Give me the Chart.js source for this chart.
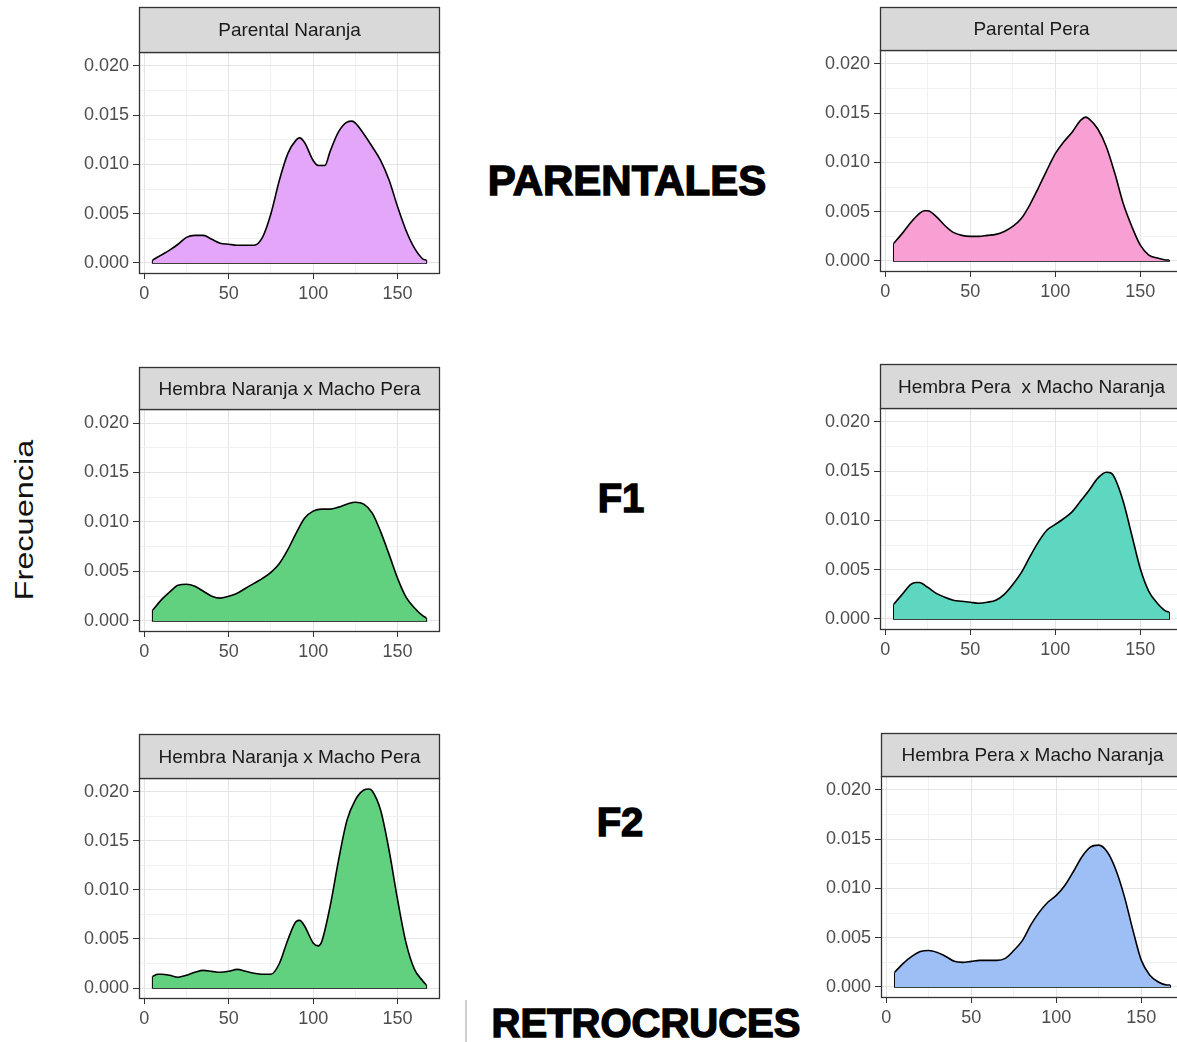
<!DOCTYPE html>
<html>
<head>
<meta charset="utf-8">
<script src="https://cdn.jsdelivr.net/npm/chart.js@4.4.0/dist/chart.umd.min.js"></script>
<style>
  html, body { margin: 0; padding: 0; background: #fff; overflow: hidden; width: 1177px; height: 1042px; }
  body { position: relative; }
  .panel { position: absolute; }
  .big {
    position: absolute; font-family: 'Liberation Sans', Arial, sans-serif; font-weight: bold;
    color: #000; line-height: 1; white-space: nowrap; transform: translate(-50%, -50%);
    -webkit-text-stroke: 1.4px #000;
  }
  .ylab {
    position: absolute; font-family: 'Liberation Sans', Arial, sans-serif; color: #111;
    font-size: 26px; line-height: 1; white-space: nowrap;
    transform: translate(-50%, -50%) rotate(-90deg) scaleX(1.25);
  }
  .sep { position: absolute; background: #d0d0d0; }
</style>
</head>
<body>
<div class="ylab" style="left:24px; top:520px;">Frecuencia</div>
<div class="big" style="left:627px; top:181px; font-size:42px;">PARENTALES</div>
<div class="big" style="left:621px; top:498px; font-size:40px;">F1</div>
<div class="big" style="left:620px; top:822px; font-size:40px;">F2</div>
<div class="big" style="left:646px; top:1023px; font-size:40px;">RETROCRUCES</div>
<div class="sep" style="left:465px; top:1000px; width:2px; height:42px;"></div>

<script>
// Axis ticks shared by every facet
const xTickValues = [0, 50, 100, 150];
const xTickLabels = ['0', '50', '100', '150'];
const yTickValues = [0, 0.005, 0.010, 0.015, 0.020];
const yTickLabels = ['0.000', '0.005', '0.010', '0.015', '0.020'];

// Facet titles
const panelTitles = [
  'Parental Naranja',
  'Parental Pera',
  'Hembra Naranja x Macho Pera',
  'Hembra Pera  x Macho Naranja',
  'Hembra Naranja x Macho Pera',
  'Hembra Pera x Macho Naranja'
];

// Density curves (x = value, y = density)
const xParentalNaranja = [5,10,15,20,25,30,35,40,45,50,55,60,65,70,75,80,85,90,92,95,100,103,107,110,115,120,123,125,130,135,140,145,150,155,160,165,167];
const yParentalNaranja = [0.0003,0.0008,0.0013,0.0019,0.0026,0.0028,0.0028,0.0024,0.0020,0.0019,0.0018,0.0018,0.0018,0.0026,0.0050,0.0084,0.0111,0.0125,0.0127,0.0122,0.0104,0.0099,0.0099,0.0113,0.0133,0.0143,0.0144,0.0142,0.0131,0.0118,0.0104,0.0084,0.0057,0.0033,0.0015,0.0004,0.0003];

const xParentalPera = [5,10,15,20,23,25,30,35,40,45,50,55,60,65,70,75,80,85,90,95,100,105,110,115,118,120,125,130,135,140,145,150,155,160,165,167];
const yParentalPera = [0.0018,0.0028,0.0039,0.0048,0.0051,0.0051,0.0045,0.0036,0.0029,0.0026,0.0025,0.0025,0.0026,0.0027,0.0030,0.0035,0.0043,0.0057,0.0074,0.0092,0.0109,0.0121,0.0131,0.0143,0.0146,0.0144,0.0134,0.0116,0.0089,0.0058,0.0035,0.0016,0.0006,0.0003,0.0001,0.0001];

const xF1NaranjaPera = [5,10,15,20,25,30,35,40,45,50,55,60,65,70,75,80,85,90,95,100,105,110,115,120,125,130,135,140,145,150,155,160,165,167];
const yF1NaranjaPera = [0.0011,0.0021,0.0029,0.0036,0.0037,0.0035,0.0030,0.0025,0.0023,0.0025,0.0028,0.0033,0.0038,0.0043,0.0049,0.0058,0.0072,0.0089,0.0104,0.0111,0.0113,0.0113,0.0115,0.0118,0.0120,0.0118,0.0109,0.0090,0.0067,0.0043,0.0024,0.0013,0.0005,0.0003];

const xF1PeraNaranja = [5,10,15,18,20,25,30,35,40,45,50,55,60,65,70,75,80,85,90,95,100,105,110,115,120,125,130,133,135,140,145,150,155,160,165,167];
const yF1PeraNaranja = [0.0015,0.0025,0.0035,0.0037,0.0037,0.0032,0.0026,0.0022,0.0019,0.0018,0.0017,0.0016,0.0017,0.0019,0.0025,0.0035,0.0047,0.0063,0.0078,0.0090,0.0096,0.0102,0.0109,0.0120,0.0131,0.0143,0.0149,0.0148,0.0143,0.0119,0.0085,0.0051,0.0028,0.0016,0.0008,0.0007];

const xF2NaranjaPera = [5,8,10,15,20,25,30,35,40,45,50,55,60,65,70,75,80,85,90,92,95,100,103,105,110,115,120,125,130,133,135,140,145,150,155,160,165,167];
const yF2NaranjaPera = [0.0012,0.0014,0.0014,0.0013,0.0011,0.0013,0.0016,0.0018,0.0017,0.0016,0.0017,0.0019,0.0017,0.0015,0.0014,0.0014,0.0025,0.0049,0.0068,0.0069,0.0063,0.0046,0.0043,0.0047,0.0083,0.0130,0.0171,0.0192,0.0202,0.0203,0.0201,0.0181,0.0140,0.0090,0.0046,0.0019,0.0007,0.0003];

const xRetroPeraNaranja = [5,10,15,20,25,30,35,40,45,50,55,60,65,70,75,80,85,90,95,100,105,110,115,120,125,130,135,140,145,150,155,160,165,167];
const yRetroPeraNaranja = [0.0015,0.0024,0.0031,0.0036,0.0037,0.0035,0.0031,0.0026,0.0025,0.0026,0.0027,0.0027,0.0027,0.0029,0.0037,0.0047,0.0063,0.0076,0.0086,0.0093,0.0103,0.0117,0.0132,0.0142,0.0144,0.0137,0.0119,0.0092,0.0058,0.0027,0.0012,0.0005,0.0002,0.0002];

// Fill colour of each facet
const fillColors = ['#e3a6f8', '#f89fd4', '#61d07f', '#5ed7c1', '#61d07f', '#9ebff6'];

// Placement of each facet's plotting panel on the page
const layouts = [
  { left: 139, top: 52,  w: 301, h: 221, strip: 45 },
  { left: 880, top: 50,  w: 303, h: 221, strip: 43 },
  { left: 139, top: 409, w: 301, h: 222, strip: 42 },
  { left: 880, top: 408, w: 303, h: 221, strip: 44 },
  { left: 139, top: 778, w: 301, h: 220, strip: 44 },
  { left: 881, top: 776, w: 303, h: 221, strip: 43 }
];

const series = [
  [xParentalNaranja, yParentalNaranja],
  [xParentalPera, yParentalPera],
  [xF1NaranjaPera, yF1NaranjaPera],
  [xF1PeraNaranja, yF1PeraNaranja],
  [xF2NaranjaPera, yF2NaranjaPera],
  [xRetroPeraNaranja, yRetroPeraNaranja]
];

const X_MIN = -3.1, X_MAX = 175.1;
const Y_MIN = -0.00102, Y_MAX = 0.02142;
const AXIS_W = 75, AXIS_H = 40, PAD_R = 6;
const FONT = "'Liberation Sans', Arial, sans-serif";

// Major breaks plus the midpoints between them (minor grid)
function withMinors(vals) {
  const out = [];
  for (let i = 0; i < vals.length; i++) {
    out.push(vals[i]);
    if (i < vals.length - 1) out.push((vals[i] + vals[i + 1]) / 2);
  }
  return out;
}
function majorIndex(vals, v) {
  const eps = 1e-9;
  return vals.findIndex(m => Math.abs(m - v) < eps);
}

// Grey strip with facet title plus the dark panel border
const facetFrame = {
  id: 'facetFrame',
  afterDraw(chart, args, opts) {
    const { ctx, chartArea: a } = chart;
    const L = Math.round(a.left) + 0.5, T = Math.round(a.top) + 0.5;
    const R = Math.round(a.right) - 0.5, B = Math.round(a.bottom) + 0.5;
    ctx.save();
    ctx.lineWidth = 1.3;
    ctx.strokeStyle = '#333';
    ctx.strokeRect(L, T, R - L, B - T);
    ctx.fillStyle = '#d9d9d9';
    ctx.fillRect(L, T - opts.strip, R - L, opts.strip);
    ctx.strokeRect(L, T - opts.strip, R - L, opts.strip);
    ctx.fillStyle = '#1a1a1a';
    ctx.font = '19px ' + FONT;
    ctx.textAlign = 'center';
    ctx.textBaseline = 'middle';
    ctx.fillText(opts.title, (L + R) / 2, T - opts.strip / 2 + 1);
    ctx.restore();
  }
};

function makePanel(i) {
  const g = layouts[i];
  const [xs, ys] = series[i];
  const n = xs.length;
  const canvas = document.createElement('canvas');
  const cw = AXIS_W + g.w + PAD_R;
  const chh = g.strip + 2 + g.h + AXIS_H;
  canvas.width = cw; canvas.height = chh;
  canvas.style.width = cw + 'px'; canvas.style.height = chh + 'px';
  const wrap = document.createElement('div');
  wrap.className = 'panel';
  wrap.style.left = (g.left - AXIS_W) + 'px';
  wrap.style.top = (g.top - g.strip - 2) + 'px';
  wrap.appendChild(canvas);
  document.body.appendChild(wrap);

  const curve = xs.map((x, k) => ({ x: x, y: ys[k] }));
  const edges = [
    { x: xs[0], y: ys[0] }, { x: xs[0], y: 0 },
    { x: xs[n - 1], y: 0 }, { x: xs[n - 1], y: ys[n - 1] }
  ];

  new Chart(canvas, {
    type: 'line',
    data: {
      datasets: [
        {
          data: curve, borderColor: '#000', borderWidth: 1.6, backgroundColor: fillColors[i],
          fill: { target: { value: 0 } }, pointRadius: 0, cubicInterpolationMode: 'monotone'
        },
        {
          data: edges, borderColor: '#000', borderWidth: 1.6, fill: false,
          pointRadius: 0, tension: 0
        }
      ]
    },
    options: {
      responsive: false, animation: false, devicePixelRatio: 1,
      layout: { padding: { top: g.strip + 2, right: PAD_R, left: 0, bottom: 0 } },
      plugins: {
        legend: { display: false }, tooltip: { enabled: false },
        facetFrame: { title: panelTitles[i], strip: g.strip }
      },
      scales: {
        x: {
          type: 'linear', min: X_MIN, max: X_MAX,
          afterBuildTicks: s => { s.ticks = withMinors(xTickValues).map(v => ({ value: v })); },
          afterFit: s => { s.height = AXIS_H; },
          border: { display: false },
          grid: {
            color: c => majorIndex(xTickValues, c.tick.value) >= 0 ? '#e4e4e4' : '#f1f1f1',
            lineWidth: 1,
            tickColor: c => majorIndex(xTickValues, c.tick.value) >= 0 ? '#333' : 'rgba(0,0,0,0)',
            tickLength: 6
          },
          ticks: {
            autoSkip: false, maxRotation: 0, padding: 4, color: '#4d4d4d',
            font: { family: FONT, size: 18 },
            callback: v => { const k = majorIndex(xTickValues, v); return k >= 0 ? xTickLabels[k] : ''; }
          }
        },
        y: {
          type: 'linear', min: Y_MIN, max: Y_MAX,
          afterBuildTicks: s => { s.ticks = withMinors(yTickValues).map(v => ({ value: v })); },
          afterFit: s => { s.width = AXIS_W; },
          border: { display: false },
          grid: {
            color: c => majorIndex(yTickValues, c.tick.value) >= 0 ? '#e4e4e4' : '#f1f1f1',
            lineWidth: 1,
            tickColor: c => majorIndex(yTickValues, c.tick.value) >= 0 ? '#333' : 'rgba(0,0,0,0)',
            tickLength: 6
          },
          ticks: {
            autoSkip: false, padding: 4, color: '#4d4d4d',
            font: { family: FONT, size: 18 },
            callback: v => { const k = majorIndex(yTickValues, v); return k >= 0 ? yTickLabels[k] : ''; }
          }
        }
      }
    },
    plugins: [facetFrame]
  });
}

for (let i = 0; i < 6; i++) makePanel(i);
</script>
</body>
</html>
